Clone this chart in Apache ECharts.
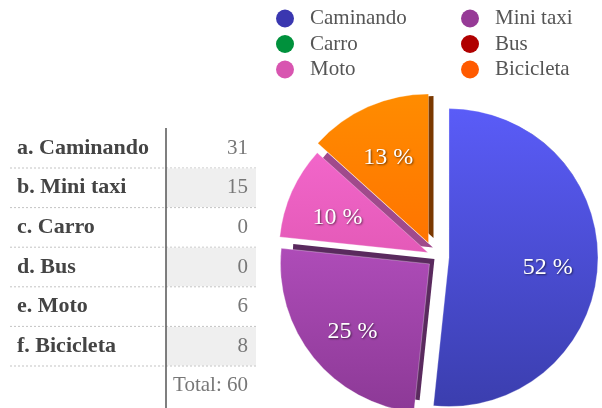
<!DOCTYPE html>
<html>
<head>
<meta charset="utf-8">
<script src="https://cdn.jsdelivr.net/npm/echarts@6/dist/echarts.min.js"></script>
<style>
	html, body { margin: 0; padding: 0; background: #ffffff; }
	#chart { width: 602px; height: 408px; }
</style>
</head>
<body>
<div id="chart"></div>
<script>
	// datos
	var categories = ['Caminando', 'Mini taxi', 'Carro', 'Bus', 'Moto', 'Bicicleta'];
	var rowLabels = ['a. Caminando', 'b. Mini taxi', 'c. Carro', 'd. Bus', 'e. Moto', 'f. Bicicleta'];
	var values = [31, 15, 0, 0, 6, 8];
	var totalLabel = 'Total: 60';

	var legendColors = ['#3a37b0', '#963a96', '#00913c', '#b00000', '#d855b0', '#ff5a00'];
	var topColors = ['#5a5cf8', '#ae4cb8', '#00a040', '#c00000', '#f266ca', '#ff8c00'];
	var bottomColors = ['#3b3eae', '#8c3996', '#008030', '#900000', '#e45ab8', '#ff7400'];
	var sideColors = ['#2a2c80', '#5a2a5e', '#005020', '#600000', '#a04a8c', '#7a3800'];

	var serif = '"Liberation Serif", "DejaVu Serif", serif';
	var cx = 438, cy = 257, r = 149, explode = 11;
	var bikeShift = [-5, -4]; // la porción naranja está algo más separada

	function grad(i) {
		return new echarts.graphic.LinearGradient(0, 0, 0, 1, [
			{ offset: 0, color: topColors[i] },
			{ offset: 1, color: bottomColors[i] }
		]);
	}

	var clear = 'rgba(0,0,0,0)';

	// tres capas (lado, cara, etiqueta) para las porciones que cumplen "show"
	function pieLayers(x, y, show) {
		var common = { type: 'pie', startAngle: 90, selectedMode: 'multiple', selectedOffset: explode, labelLine: { show: false }, emphasis: { disabled: true }, silent: true };
		var side = Object.assign({}, common, {
			center: [x + 5, y - 5], radius: [0, r - 7], label: { show: false },
			data: categories.map(function (name, i) {
				return { name: name, value: values[i], selected: true, itemStyle: { color: show(i) ? sideColors[i] : clear } };
			})
		});
		var face = Object.assign({}, common, {
			center: [x, y], radius: [0, r], label: { show: false },
			data: categories.map(function (name, i) {
				return { name: name, value: values[i], selected: true, itemStyle: show(i) ? { color: grad(i), borderColor: 'rgba(255,255,255,0.5)', borderWidth: 0.6 } : { color: clear } };
			})
		});
		var labels = Object.assign({}, common, {
			center: [x, y], radius: [62, 130],
			data: categories.map(function (name, i) {
				return { name: name, value: values[i], selected: true, itemStyle: { color: clear }, label: { show: show(i) && values[i] > 0 } };
			}),
			label: {
				position: 'inside',
				formatter: function (p) { return Math.round(p.percent) + ' %'; },
				fontFamily: serif, fontSize: 24, color: '#ffffff',
				textShadowColor: 'rgba(0,0,0,0.55)', textShadowBlur: 2, textShadowOffsetX: 1, textShadowOffsetY: 1
			},
			labelLayout: { dy: 5 }
		});
		return [side, face, labels];
	}

	var isBike = function (i) { return categories[i] == 'Bicicleta'; };
	var mainLayers = pieLayers(cx, cy, function (i) { return !isBike(i); });
	var bikeLayers = pieLayers(cx + bikeShift[0], cy + bikeShift[1], isBike);

	// tabla a la izquierda
	var graphics = [];
	var rowTop = 128.4, rowH = 39.6;
	for (var i = 0; i < rowLabels.length; i++) {
		var y0 = rowTop + rowH * i;
		if (i % 2 == 1) {
			graphics.push({ type: 'rect', shape: { x: 166, y: y0 + 0.5, width: 90, height: rowH - 1 }, style: { fill: '#efefef' }, silent: true });
		}
		graphics.push({ type: 'line', shape: { x1: 10, y1: y0 + rowH, x2: 256, y2: y0 + rowH }, style: { stroke: '#c4c4c4', lineWidth: 1, lineDash: [2, 2] }, silent: true });
		graphics.push({ type: 'text', x: 17, y: y0 + rowH / 2, style: { text: rowLabels[i], font: 'bold 22px ' + serif, fill: '#444', verticalAlign: 'middle' }, silent: true });
		graphics.push({ type: 'text', x: 248, y: y0 + rowH / 2, style: { text: String(values[i]), font: '21px ' + serif, fill: '#777', align: 'right', verticalAlign: 'middle' }, silent: true });
	}
	graphics.push({ type: 'text', x: 248, y: rowTop + rowH * 6 + 19, style: { text: totalLabel, font: '21px ' + serif, fill: '#777', align: 'right', verticalAlign: 'middle' }, silent: true });
	graphics.push({ type: 'line', shape: { x1: 166, y1: 128, x2: 166, y2: 408 }, style: { stroke: '#555', lineWidth: 1.5 }, silent: true });

	var legendText = { fontFamily: serif, fontSize: 21, color: '#555', lineHeight: 18 };

	var myChart = echarts.init(document.getElementById('chart'));
	var option = {
		animation: false,
		legend: [{
			orient: 'vertical', left: 276, top: 8, icon: 'circle', padding: 0,
			itemWidth: 40, itemHeight: 18, itemGap: 4.5, selectedMode: false,
			data: [0, 2, 4].map(function (i) { return { name: categories[i], itemStyle: { color: legendColors[i] } }; }),
			textStyle: legendText
		}, {
			orient: 'vertical', left: 461, top: 8, icon: 'circle', padding: 0,
			itemWidth: 40, itemHeight: 18, itemGap: 4.5, selectedMode: false,
			data: [1, 3, 5].map(function (i) { return { name: categories[i], itemStyle: { color: legendColors[i] } }; }),
			textStyle: legendText
		}],
		graphic: graphics,
		// orden de dibujo: lados, caras, etiquetas
		series: [bikeLayers[0], mainLayers[0], bikeLayers[1], mainLayers[1], mainLayers[2], bikeLayers[2]]
	};
	myChart && myChart.setOption(option);
</script>
</body>
</html>
